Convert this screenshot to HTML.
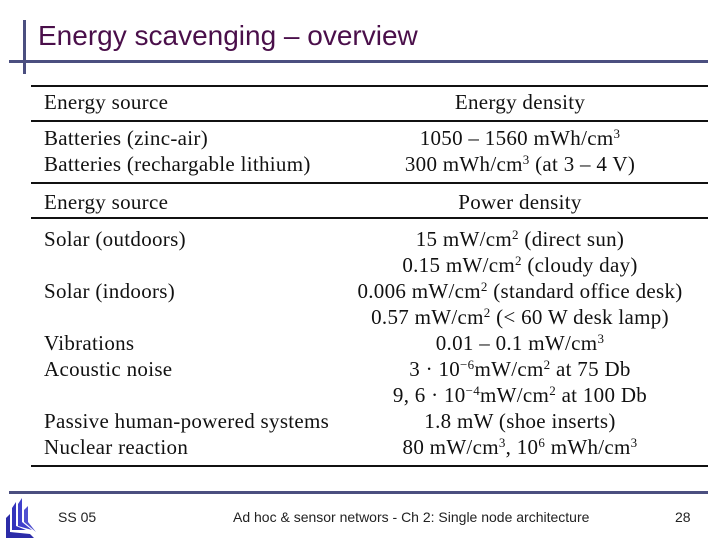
<!DOCTYPE html>
<html><head><meta charset="utf-8"><style>
body{margin:0;width:720px;height:540px;background:#fff;position:relative;overflow:hidden;font-family:"Liberation Serif",serif}
.a{position:absolute}
.t{position:absolute;font-size:21px;letter-spacing:0.3px;color:#111;white-space:nowrap;line-height:20px}
.l{left:44px}
.r{left:330px;width:380px;text-align:center}
.rule{position:absolute;left:31px;width:677px;height:2px;background:#111}
sup{font-size:13px;line-height:0;vertical-align:7px}
</style></head><body>
<div class="a" style="left:23px;top:20px;width:3px;height:54px;background:#4b4f80"></div>
<div class="a" style="left:9px;top:60px;width:699px;height:3px;background:#4b4f80"></div>
<div class="a" style="left:38px;top:20px;font-family:'Liberation Sans',sans-serif;font-size:28px;color:#4a0f4a;white-space:nowrap">Energy scavenging – overview</div>

<div class="rule" style="top:85px"></div>
<div class="t l" style="top:92px">Energy source</div>
<div class="t r" style="top:92px">Energy density</div>
<div class="rule" style="top:120px"></div>
<div class="t l" style="top:128px">Batteries (zinc-air)</div>
<div class="t r" style="top:128px">1050 – 1560 mWh/cm<sup>3</sup></div>
<div class="t l" style="top:154px">Batteries (rechargable lithium)</div>
<div class="t r" style="top:154px">300 mWh/cm<sup>3</sup> (at 3 – 4 V)</div>
<div class="rule" style="top:182px"></div>
<div class="t l" style="top:192px">Energy source</div>
<div class="t r" style="top:192px">Power density</div>
<div class="rule" style="top:217px"></div>
<div class="t l" style="top:229px">Solar (outdoors)</div>
<div class="t r" style="top:229px">15 mW/cm<sup>2</sup> (direct sun)</div>
<div class="t r" style="top:255px">0.15 mW/cm<sup>2</sup> (cloudy day)</div>
<div class="t l" style="top:281px">Solar (indoors)</div>
<div class="t r" style="top:281px">0.006 mW/cm<sup>2</sup> (standard office desk)</div>
<div class="t r" style="top:307px">0.57 mW/cm<sup>2</sup> (&lt; 60 W desk lamp)</div>
<div class="t l" style="top:333px">Vibrations</div>
<div class="t r" style="top:333px">0.01 – 0.1 mW/cm<sup>3</sup></div>
<div class="t l" style="top:359px">Acoustic noise</div>
<div class="t r" style="top:359px">3 · 10<sup>−6</sup>mW/cm<sup>2</sup> at 75 Db</div>
<div class="t r" style="top:385px">9, 6 · 10<sup>−4</sup>mW/cm<sup>2</sup> at 100 Db</div>
<div class="t l" style="top:411px">Passive human-powered systems</div>
<div class="t r" style="top:411px">1.8 mW (shoe inserts)</div>
<div class="t l" style="top:437px">Nuclear reaction</div>
<div class="t r" style="top:437px">80 mW/cm<sup>3</sup>, 10<sup>6</sup> mWh/cm<sup>3</sup></div>
<div class="rule" style="top:465px"></div>

<div class="a" style="left:9px;top:491px;width:699px;height:3px;background:#4b4f80"></div>
<svg class="a" style="left:2px;top:496px" width="36" height="42" viewBox="0 0 36 42">
<polygon points="4,40 4,22 8,18 8,36 28,38 32,42 4,42" fill="#2c2ca8"/>
<polygon points="10,34 10,12 14,6 14,30 24,34" fill="#3333bb"/>
<polygon points="16,30 16,8 20,2 20,26 30,34" fill="#4040cc"/>
<polygon points="22,26 22,14 26,10 26,26 34,36" fill="#5050d0"/>
</svg>
<div class="a" style="left:58px;top:509px;font-family:'Liberation Sans',sans-serif;font-size:14px;color:#222">SS 05</div>
<div class="a" style="left:233px;top:509px;font-family:'Liberation Sans',sans-serif;font-size:14px;color:#222;white-space:nowrap">Ad hoc &amp; sensor networs - Ch 2: Single node architecture</div>
<div class="a" style="left:675px;top:509px;font-family:'Liberation Sans',sans-serif;font-size:14px;color:#222">28</div>
</body></html>
